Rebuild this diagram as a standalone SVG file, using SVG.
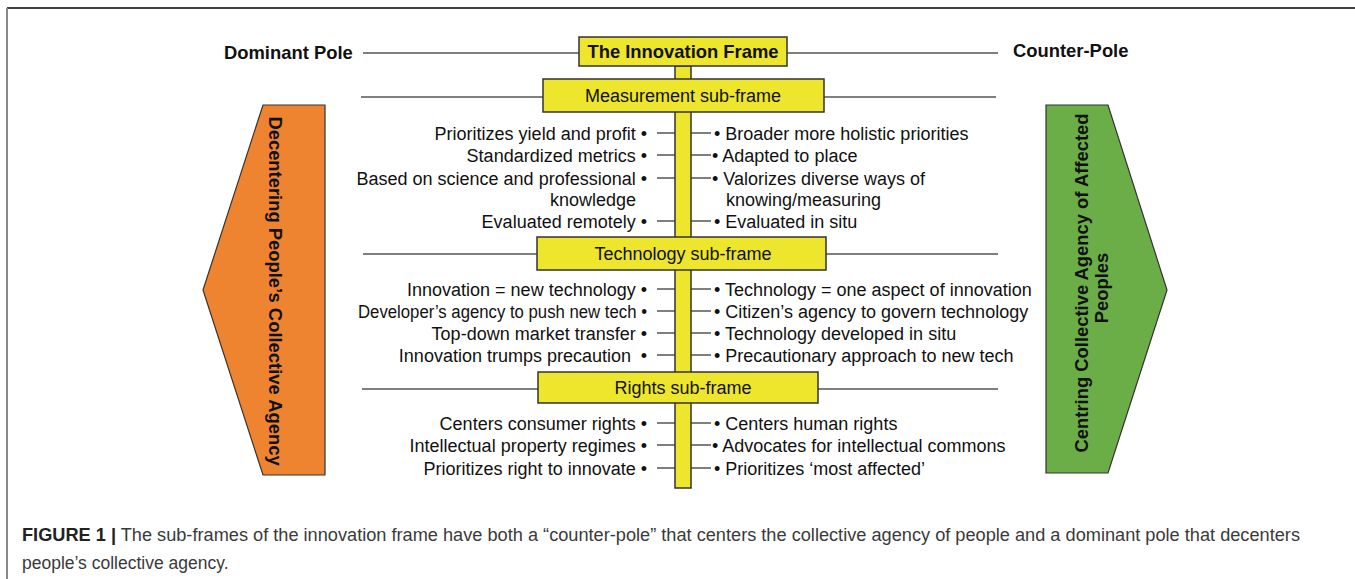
<svg xmlns="http://www.w3.org/2000/svg" width="1355" height="579" viewBox="0 0 1355 579">
<style>
.t{font-family:"Liberation Sans",Arial,sans-serif;font-size:18px;fill:#111}
.b{font-family:"Liberation Sans",Arial,sans-serif;font-size:18.4px;font-weight:bold;fill:#111}
.l{text-anchor:end}
.box{fill:#EDE62C;stroke:#333;stroke-width:1.5}
.ln{stroke:#555;stroke-width:1.5;fill:none}
.cap{font-family:"Liberation Sans",Arial,sans-serif;font-size:17.5px;fill:#3a3a3a}
</style>
<rect width="1355" height="579" fill="#fff"/>
<line x1="7" y1="8" x2="1355" y2="8" stroke="#444" stroke-width="2"/>
<line x1="7" y1="8" x2="7" y2="579" stroke="#888" stroke-width="2"/>

<g id="connectors">
<line class="ln" x1="363" y1="53" x2="580" y2="53"/>
<line class="ln" x1="787" y1="53" x2="998" y2="53"/>
<line class="ln" x1="361" y1="97" x2="543" y2="97"/>
<line class="ln" x1="824" y1="97" x2="996" y2="97"/>
<line class="ln" x1="363" y1="254" x2="537" y2="254"/>
<line class="ln" x1="826" y1="254" x2="998" y2="254"/>
<line class="ln" x1="362" y1="389" x2="538" y2="389"/>
<line class="ln" x1="818" y1="389" x2="998" y2="389"/>
<g class="ln">
<path d="M657 133H675M691 133H711M657 155H675M691 155H711M657 178H675M691 178H711M657 221H675M691 221H711"/>
<path d="M657 289H675M691 289H711M657 311H675M691 311H711M657 333H675M691 333H711M657 355H675M691 355H711"/>
<path d="M657 423H675M691 423H711M657 445H675M691 445H711M657 468H675M691 468H711"/>
</g>
</g>

<g id="spine"><rect class="box" x="675" y="66" width="16" height="422"/></g>

<g id="dominant-pole"><text class="b" x="224" y="59">Dominant Pole</text></g>
<g id="counter-pole"><text class="b" x="1013" y="57">Counter-Pole</text></g>

<g id="innovation-frame">
<rect class="box" x="579" y="37" width="208" height="29"/>
<text class="b" x="683" y="58" text-anchor="middle">The Innovation Frame</text>
</g>

<g id="measurement">
<rect class="box" x="543" y="79" width="281" height="33"/>
<text class="t" x="683" y="102" text-anchor="middle">Measurement sub-frame</text>
</g>
<g id="technology">
<rect class="box" x="537" y="237" width="289" height="33"/>
<text class="t" x="683" y="260" text-anchor="middle">Technology sub-frame</text>
</g>
<g id="rights">
<rect class="box" x="538" y="372" width="280" height="31"/>
<text class="t" x="683" y="394" text-anchor="middle">Rights sub-frame</text>
</g>

<g id="dominant-items">
<text class="t l" x="647" y="139.5">Prioritizes yield and profit •</text>
<text class="t l" x="647" y="161.5">Standardized metrics •</text>
<text class="t l" x="647" y="184.5">Based on science and professional •</text>
<text class="t l" x="636" y="205.5">knowledge</text>
<text class="t l" x="647" y="227.5">Evaluated remotely •</text>
<text class="t l" x="647" y="295.5">Innovation = new technology •</text>
<text class="t l" x="647" y="317.5" textLength="289" lengthAdjust="spacingAndGlyphs">Developer’s agency to push new tech •</text>
<text class="t l" x="647" y="339.5">Top-down market transfer •</text>
<text class="t l" x="631" y="361.5">Innovation trumps precaution</text>
<text class="t l" x="647" y="361.5">•</text>
<text class="t l" x="647" y="429.5">Centers consumer rights •</text>
<text class="t l" x="647" y="451.5">Intellectual property regimes •</text>
<text class="t l" x="647" y="474.5">Prioritizes right to innovate •</text>
</g>

<g id="counter-items">
<text class="t" x="714" y="139.5">• Broader more holistic priorities</text>
<text class="t" x="712" y="161.5">• Adapted to place</text>
<text class="t" x="712" y="184.5">• Valorizes diverse ways of</text>
<text class="t" x="726" y="205.5">knowing/measuring</text>
<text class="t" x="714" y="227.5">• Evaluated in situ</text>
<text class="t" x="714" y="295.5">• Technology = one aspect of innovation</text>
<text class="t" x="714" y="317.5">• Citizen’s agency to govern technology</text>
<text class="t" x="714" y="339.5">• Technology developed in situ</text>
<text class="t" x="714" y="361.5">• Precautionary approach to new tech</text>
<text class="t" x="714" y="429.5">• Centers human rights</text>
<text class="t" x="712" y="451.5">• Advocates for intellectual commons</text>
<text class="t" x="714" y="474.5">• Prioritizes ‘most affected’</text>
</g>

<g id="decentering">
<polygon points="263,105 325,105 325,475 263,475 203,290" fill="#EF8430" stroke="#333" stroke-width="1.2"/>
<text class="b" transform="translate(269,291) rotate(90)" text-anchor="middle" font-size="17.6">Decentering People’s Collective Agency</text>
</g>

<g id="centring">
<polygon points="1046,105 1108,105 1167,290 1108,473 1046,473" fill="#6BAE48" stroke="#333" stroke-width="1.2"/>
<text class="b" transform="translate(1088,283) rotate(-90)" text-anchor="middle" font-size="16.4">Centring Collective Agency of Affected</text>
<text class="b" transform="translate(1108,288) rotate(-90)" text-anchor="middle" font-size="16.4">Peoples</text>
</g>

<g id="caption">
<text class="cap" x="22" y="541" textLength="1278" lengthAdjust="spacingAndGlyphs"><tspan font-weight="bold" fill="#222">FIGURE 1 |</tspan> The sub-frames of the innovation frame have both a “counter-pole” that centers the collective agency of people and a dominant pole that decenters</text>
<text class="cap" x="22" y="569">people’s collective agency.</text>
</g>
</svg>
